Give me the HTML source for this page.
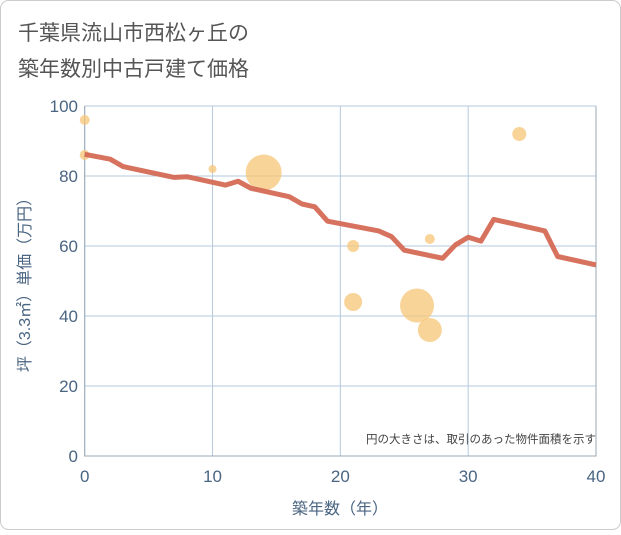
<!DOCTYPE html>
<html><head><meta charset="utf-8"><style>
body{margin:0;background:#fff;}
#wrap{position:relative;width:621px;height:530px;font-family:"Liberation Sans","Noto Sans CJK JP",sans-serif;}
</style></head><body>
<div id="wrap">
<svg id="svg" width="621" height="530">
<rect x="0.5" y="0.5" width="620" height="529" rx="8" fill="#fff" stroke="#ccc"/>
<text x="18" y="40" font-size="21" fill="#555">千葉県流山市西松ヶ丘の</text>
<text x="18" y="76" font-size="21" fill="#555">築年数別中古戸建て価格</text>
<g id="grid"></g><g id="marks"></g>
<text x="596" y="443" font-size="11.5" fill="#444" text-anchor="end">円の大きさは、取引のあった物件面積を示す</text>
<text x="340" y="514" font-size="16" fill="#4a6582" text-anchor="middle">築年数（年）</text>
<text transform="translate(30,281) rotate(-90)" font-size="16" fill="#4a6582" text-anchor="middle">坪（3.3㎡）単価（万円）</text>
</svg></div>
<script>
const xTicks=[0,10,20,30,40];
const yTicks=[0,20,40,60,80,100];
const lineX=[0,2,3,7,8,11,12,13,16,17,18,19,23,24,25,28,29,30,31,32,36,37,40];
const lineY=[86.2,84.8,82.7,79.6,79.8,77.4,78.5,76.5,74.1,72,71.2,67.1,64.3,62.7,58.8,56.5,60.3,62.5,61.4,67.6,64.3,57,54.6];
const bubX=[0,0,10,14,21,21,26,27,27,34];
const bubY=[96,86,82,81,60,44,43,36,62,92];
const bubR=[5,5,4,18,6,9,17,12,5,7];
const x0=84.7,x1=596,y0=456,y1=106;
const sx=v=>x0+(x1-x0)*v/40, sy=v=>y0-(y0-y1)*v/100;
const NS='http://www.w3.org/2000/svg';
const grid=document.getElementById('grid'),marks=document.getElementById('marks');
function mk(p,tag,a){const e=document.createElementNS(NS,tag);for(const k in a)e.setAttribute(k,a[k]);p.appendChild(e);return e;}
xTicks.forEach(t=>{const l=mk(grid,'line',{x1:sx(t),x2:sx(t),y1:y1,y2:y0,stroke:'#b5c9dc'});

const tx=mk(grid,'text',{x:sx(t),y:482,'font-size':17,fill:'#4a6582','text-anchor':'middle'});tx.textContent=t;
});
yTicks.forEach(t=>{const l=mk(grid,'line',{x1:x0,x2:x1,y1:sy(t),y2:sy(t),stroke:'#b5c9dc'});

const tx=mk(grid,'text',{x:78,y:sy(t)+6,'font-size':17,fill:'#4a6582','text-anchor':'end'});tx.textContent=t;
});
const ax=mk(grid,'path',{d:`M${x0} ${y1}V${y0}H${x1}V${y1}`,fill:'none',stroke:'#9aa8b5'});

bubX.forEach((v,i)=>{const c=mk(marks,'circle',{cx:sx(v),cy:sy(bubY[i]),r:bubR[i],fill:'#f5c677','fill-opacity':0.75});
});
const d=lineX.map((v,i)=>(i?'L':'M')+sx(v)+' '+sy(lineY[i])).join('');
const pl=mk(marks,'path',{d:d,fill:'none',stroke:'#d46a55','stroke-width':5,'stroke-linejoin':'round','stroke-opacity':0.95});

</script></body></html>
